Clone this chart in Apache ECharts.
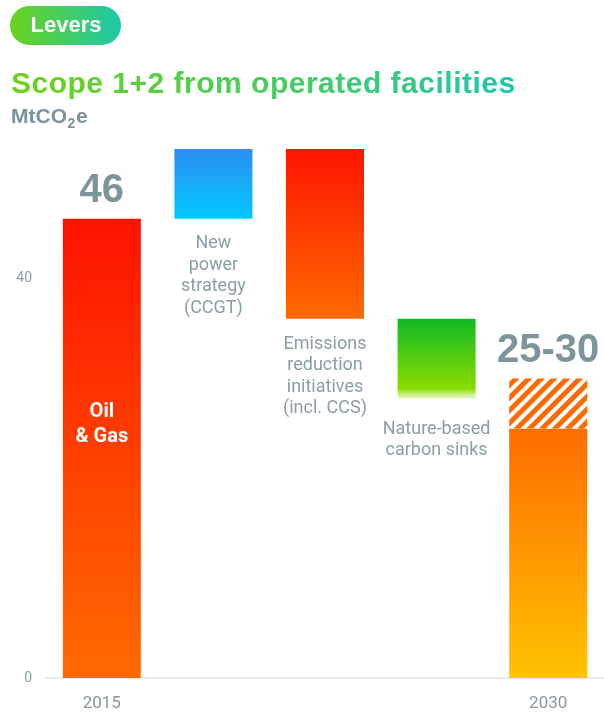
<!DOCTYPE html>
<html>
<head>
<meta charset="utf-8">
<style>
  html, body { margin: 0; padding: 0; background: #fff; }
  #chart { width: 604px; height: 712px; }
</style>
<script src="https://cdn.jsdelivr.net/npm/echarts@6/dist/echarts.min.js"></script>
</head>
<body>
<div id="chart"></div>
<script>
// data (MtCO2e)
const categories = ['2015', 'New power', 'Emissions reduction', 'Nature-based', '2030'];
const axisLabels = ['2015', '', '', '', '2030'];
const baseValues = [0, 46, 36, 28, 0];      // invisible offset of the waterfall
const stepValues = [46, 7, 17, 8, 25];       // visible bar heights
const rangeValues = [0, '-', '-', '-', 5];   // 2030 range 25-30 (hatched)
const topLabels = ['46', '', '', '', '25-30'];
const barLabels = ['Oil\n& Gas', 'New\npower\nstrategy\n(CCGT)', 'Emissions\nreduction\ninitiatives\n(incl. CCS)', 'Nature-based\ncarbon sinks', ''];

const titleText = 'Scope 1+2 from operated facilities';
const headFont = '"Liberation Sans", Arial, sans-serif';
const bodyFont = 'Roboto, "Noto Sans", sans-serif';

const chart = echarts.init(document.getElementById('chart'));

const grad = (stops) => new echarts.graphic.LinearGradient(0, 0, 0, 1, stops);

const barColors = [
  grad([{ offset: 0, color: '#ff1200' }, { offset: 1, color: '#ff6a00' }]),
  grad([{ offset: 0, color: '#2b8ef0' }, { offset: 1, color: '#00c9ff' }]),
  grad([{ offset: 0, color: '#ff1500' }, { offset: 1, color: '#ff6a00' }]),
  grad([
    { offset: 0, color: '#10b925' },
    { offset: 0.88, color: '#8cdc00' },
    { offset: 1, color: 'rgba(200,240,140,0.5)' }
  ]),
  grad([{ offset: 0, color: '#ff6c00' }, { offset: 1, color: '#ffc200' }])
];

const grayText = '#8a9ea4';
const labelGap = [0, 14, 15, 20, 0];

const stepData = stepValues.map((v, i) => {
  let label;
  if (i === 0) {
    label = { show: true, position: 'inside', offset: [0, -24], color: '#fff', fontWeight: 'bold', fontSize: 20, lineHeight: 25 };
  } else if (i === 4) {
    label = { show: false };
  } else {
    label = { show: true, position: 'bottom', distance: labelGap[i], color: grayText, fontSize: 18, lineHeight: 21.5 };
  }
  return { value: v, itemStyle: { color: barColors[i] }, label };
});

const rangeData = rangeValues.map((v, i) => ({
  value: v,
  label: { show: topLabels[i] !== '' }
}));

// title: one rich token per letter so the green->teal gradient can be applied
const titleRich = {};
let titleStr = '';
titleText.split('').forEach((ch, i) => {
  const key = 'c' + i;
  titleRich[key] = {
    fill: echarts.color.lerp(i / (titleText.length - 1), ['#6bd21c', '#1ec8aa']),
    font: 'bold 30px ' + headFont,
    padding: [0, 0.5, 0, 0]
  };
  titleStr += '{' + key + '|' + ch + '}';
});

const unitStyle = (text, size) => ({
  text,
  fill: '#7b9298',
  font: 'bold ' + size + 'px ' + headFont,
  verticalAlign: 'middle'
});

const option = {
  animation: false,
  textStyle: { fontFamily: bodyFont },
  grid: { left: 46, right: 0, top: 129, bottom: 33 },
  xAxis: {
    type: 'category',
    data: categories,
    axisLine: { lineStyle: { color: '#e2e6e8', width: 1.5 } },
    axisTick: { show: false },
    axisLabel: {
      color: '#8a969b',
      fontSize: 17,
      margin: 17,
      interval: 0,
      formatter: (val, idx) => axisLabels[idx]
    }
  },
  yAxis: {
    type: 'value',
    min: 0,
    max: 55,
    axisLine: { show: false },
    axisTick: { show: false },
    splitLine: { show: false },
    axisLabel: {
      customValues: [0, 40],
      color: '#8f9ea3',
      fontSize: 14,
      margin: 14
    }
  },
  series: [
    {
      type: 'bar',
      stack: 'w',
      barWidth: 78,
      itemStyle: { color: 'transparent' },
      silent: true,
      data: baseValues
    },
    {
      type: 'bar',
      stack: 'w',
      barWidth: 78,
      label: {
        fontFamily: bodyFont,
        formatter: (p) => barLabels[p.dataIndex]
      },
      data: stepData
    },
    {
      type: 'bar',
      stack: 'w',
      barWidth: 78,
      itemStyle: {
        color: '#fff',
        decal: {
          symbol: 'rect',
          color: '#ff6a00',
          dashArrayX: [1, 0],
          dashArrayY: [5, 4],
          rotation: -Math.PI / 4
        }
      },
      label: {
        position: 'top',
        distance: 8,
        color: '#7d949b',
        fontWeight: 'bold',
        fontFamily: headFont,
        fontSize: 40,
        formatter: (p) => topLabels[p.dataIndex]
      },
      data: rangeData
    }
  ],
  graphic: [
    {
      type: 'rect',
      shape: { x: 10, y: 6, width: 111, height: 39, r: 19.5 },
      style: {
        fill: new echarts.graphic.LinearGradient(0, 0, 1, 0, [
          { offset: 0, color: '#6bd21c' },
          { offset: 1, color: '#1cc8ab' }
        ])
      }
    },
    {
      type: 'text',
      x: 66,
      y: 26,
      style: {
        text: 'Levers',
        fill: '#fff',
        font: 'bold 22px ' + headFont,
        align: 'center',
        verticalAlign: 'middle'
      }
    },
    {
      type: 'text',
      x: 11,
      y: 85,
      style: {
        text: titleStr,
        rich: titleRich,
        verticalAlign: 'middle'
      }
    },
    // unit: MtCO2e with a lowered subscript
    { type: 'text', x: 11, y: 117, style: unitStyle('MtCO', 21) },
    { type: 'text', x: 67.5, y: 124, style: unitStyle('2', 14) },
    { type: 'text', x: 76, y: 117, style: unitStyle('e', 21) }
  ]
};

chart.setOption(option);
</script>
</body>
</html>
